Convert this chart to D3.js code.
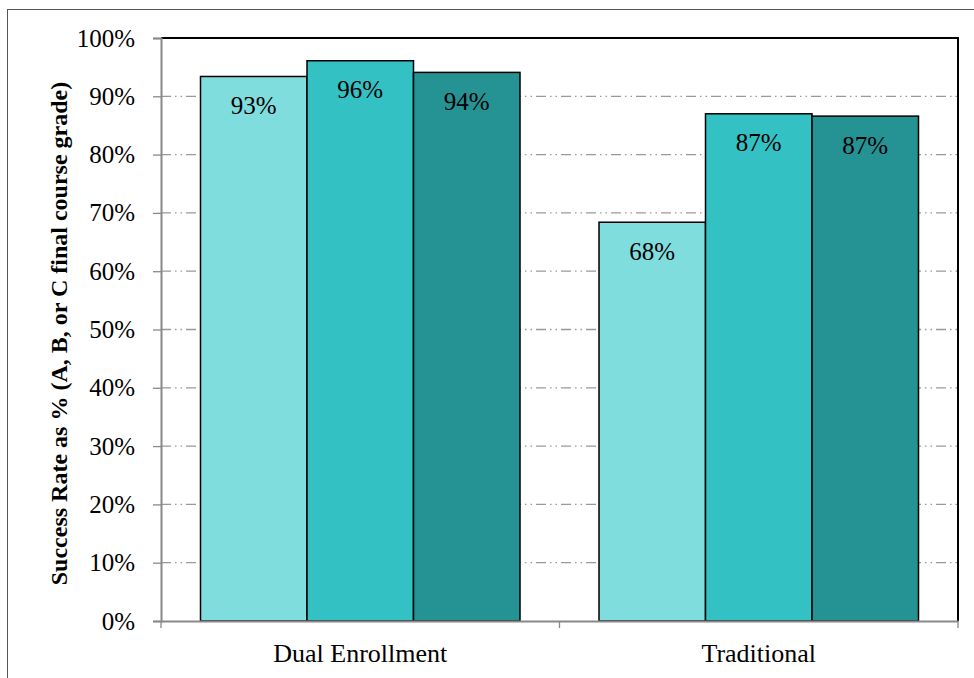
<!DOCTYPE html>
<html>
<head>
<meta charset="utf-8">
<script src="https://cdn.jsdelivr.net/npm/d3@7/dist/d3.min.js"></script>
<style>
  html, body { margin: 0; padding: 0; background: #fff; }
  svg { display: block; }
</style>
</head>
<body>
<svg id="chart" width="974" height="678"></svg>
<script>
// Success rates by course delivery type (three cohorts each)
const categories = ["Dual Enrollment", "Traditional"];
const seriesNames = ["Cohort 1", "Cohort 2", "Cohort 3"];
const cohort1 = [93.4, 68.4];
const cohort2 = [96.1, 87.0];
const cohort3 = [94.1, 86.6];
const yTicks = [0, 10, 20, 30, 40, 50, 60, 70, 80, 90, 100];
const colors = ["#7fdddd", "#33c1c4", "#259394"];
const yTitle = "Success Rate as % (A, B, or C final course grade)";

const seriesValues = [cohort1, cohort2, cohort3];
const serif = '"Liberation Serif", "Times New Roman", Times, serif';

const svg = d3.select("#chart");
const plot = { left: 161, top: 38, right: 958, bottom: 621 };

// outer frame
svg.append("rect")
  .attr("x", 7.5).attr("y", 9.5)
  .attr("width", 1000).attr("height", 1000)
  .attr("fill", "none").attr("stroke", "#555").attr("stroke-width", 1);

const x0 = d3.scaleBand().domain(categories)
  .range([plot.left, plot.right]).paddingInner(0).paddingOuter(0);
const groupPad = 39.5;
const x1 = d3.scaleBand().domain(seriesNames)
  .range([groupPad, x0.bandwidth() - groupPad]).padding(0);
const y = d3.scaleLinear().domain([0, 100]).range([plot.bottom, plot.top]);

// dash-dot gridlines
svg.append("g").selectAll("line")
  .data(yTicks.filter(t => t > 0 && t < 100))
  .join("line")
  .attr("x1", plot.left).attr("x2", plot.right)
  .attr("y1", d => y(d)).attr("y2", d => y(d))
  .attr("stroke", "#999").attr("stroke-width", 1.3)
  .attr("stroke-dasharray", "10,4,1.5,4,1.5,4");

// bars
const groups = svg.append("g").selectAll("g")
  .data(categories)
  .join("g")
  .attr("transform", d => `translate(${x0(d)},0)`);

groups.selectAll("rect")
  .data((c, ci) => seriesNames.map((s, si) => ({ s, si, v: seriesValues[si][ci] })))
  .join("rect")
  .attr("x", d => x1(d.s))
  .attr("width", x1.bandwidth())
  .attr("y", d => y(d.v))
  .attr("height", d => y(0) - y(d.v))
  .attr("fill", d => colors[d.si])
  .attr("stroke", "#000").attr("stroke-width", 1.5);

groups.selectAll("text.val")
  .data((c, ci) => seriesNames.map((s, si) => ({ s, si, v: seriesValues[si][ci] })))
  .join("text")
  .attr("class", "val")
  .attr("x", d => x1(d.s) + x1.bandwidth() / 2)
  .attr("y", d => y(d.v) + 37.5)
  .attr("text-anchor", "middle")
  .style("font-family", serif)
  .style("font-size", "25px")
  .attr("fill", "#000")
  .text(d => Math.round(d.v) + "%");

// frame top/right
svg.append("path")
  .attr("d", `M${plot.left},${plot.top}H${plot.right}V${plot.bottom}`)
  .attr("fill", "none").attr("stroke", "#000").attr("stroke-width", 2);

// y axis
const yAxis = svg.append("g")
  .attr("transform", `translate(${plot.left},0)`)
  .call(d3.axisLeft(y).tickValues(yTicks).tickSize(8).tickPadding(18)
    .tickFormat(d => d + "%"));
yAxis.select(".domain").attr("stroke", "#888").attr("stroke-width", 2);
yAxis.selectAll(".tick line").attr("stroke", "#888").attr("stroke-width", 1.3);
yAxis.selectAll(".tick text")
  .style("font-family", serif)
  .style("font-size", "25px").attr("fill", "#000");

// x axis
const xAxis = svg.append("g")
  .attr("transform", `translate(0,${plot.bottom})`)
  .call(d3.axisBottom(x0).tickSize(0).tickPadding(0).tickFormat(""));
xAxis.select(".domain").attr("stroke", "#888").attr("stroke-width", 2);
xAxis.selectAll(".tick").remove();
// category boundary ticks
xAxis.selectAll("line.bound")
  .data([plot.left, plot.left + x0.bandwidth(), plot.right])
  .join("line")
  .attr("class", "bound")
  .attr("x1", d => d).attr("x2", d => d)
  .attr("y1", 0).attr("y2", 7)
  .attr("stroke", "#888").attr("stroke-width", 1.3);
xAxis.selectAll("text.cat")
  .data(categories)
  .join("text")
  .attr("class", "cat")
  .attr("x", d => x0(d) + x0.bandwidth() / 2)
  .attr("y", 41)
  .attr("text-anchor", "middle")
  .style("font-family", serif)
  .style("font-size", "26px")
  .attr("fill", "#000")
  .text(d => d);

// y axis title
svg.append("text")
  .attr("transform", `translate(67,${(plot.top + plot.bottom) / 2 + 4}) rotate(-90)`)
  .attr("text-anchor", "middle")
  .style("font-family", serif)
  .style("font-size", "24px").style("font-weight", "bold")
  .attr("fill", "#000")
  .text(yTitle);
</script>
</body>
</html>
